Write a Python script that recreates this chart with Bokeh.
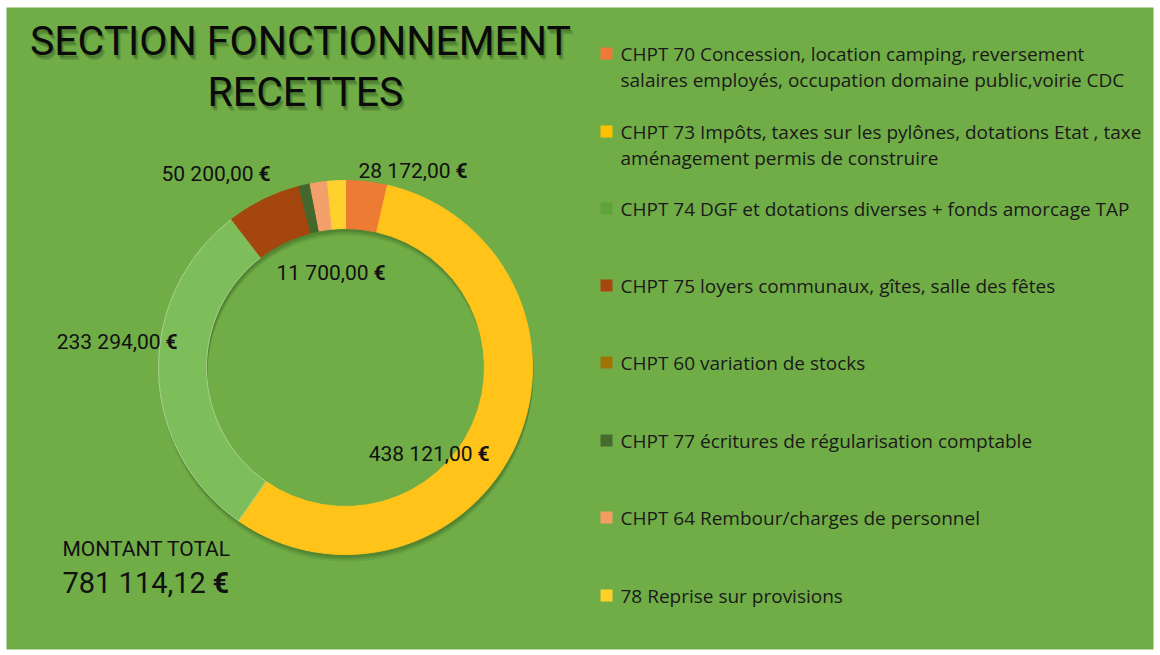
import numpy as np
from bokeh.plotting import figure
from bokeh.models import Range1d
from bokeh.core.properties import value
from bokeh.embed import file_html
from bokeh.resources import INLINE

# ---------------- data ----------------
categories = [
    "CHPT 70  Concession, location camping, reversement\nsalaires employés, occupation domaine public,voirie CDC",
    "CHPT 73 Impôts, taxes sur les pylônes, dotations Etat , taxe\naménagement permis de construire",
    "CHPT 74 DGF et dotations diverses + fonds amorcage TAP",
    "CHPT 75  loyers communaux, gîtes, salle des fêtes",
    "CHPT 60 variation de stocks",
    "CHPT 77 écritures de régularisation comptable",
    "CHPT 64 Rembour/charges de personnel",
    "78 Reprise sur provisions",
]
values = [28172.00, 438121.00, 233294.00, 50200.00, 0.00, 7627.12, 11700.00, 12000.00]
labelled = [0, 3, 6, 2, 1]          # slices that carry a value label
title_lines = ["SECTION  FONCTIONNEMENT", "RECETTES"]
total_caption = "MONTANT TOTAL"

# ---------------- styles ----------------
BG = "#70AD47"
slice_colors = ["#EE7B34", "#FFC31A", "#7DBE5B", "#A5460E", "#997300", "#43682B", "#F4A06A", "#FFD12E"]
slice_lines = ["#EE7B34", "#FFC31A", "#A9D18E", "#A5460E", "#997300", "#43682B", "#F4A06A", "#FFD12E"]
legend_colors = ["#EE7A3A", "#FFC000", "#5FA33B", "#A8460F", "#A07404", "#466B2E", "#F59C63", "#FFCF2A"]

W, H = 1160, 655
def X(x):  # image px -> data
    return x
def Y(y):
    return H - y

def fr(v):
    s = f"{v:,.2f}"
    return s.replace(",", " ").replace(".", ",")

p = figure(width=W, height=H, x_range=Range1d(0, W), y_range=Range1d(0, H),
           toolbar_location=None, output_backend="svg",
           x_axis_location=None, y_axis_location=None, min_border=0,
           background_fill_color="white", border_fill_color="white", outline_line_color=None)
p.grid.visible = False

# green panel
p.quad(left=[6], right=[1153], top=[Y(7)], bottom=[Y(649)], fill_color=BG, line_color=None)

# ---------------- donut ----------------
cx, cy = X(345), Y(367)
R_out, R_in = 187, 139
vals = np.array(values)
total = vals.sum()
cum = np.concatenate([[0], np.cumsum(vals)])
start = np.pi / 2 - cum[:-1] / total * 2 * np.pi
end = np.pi / 2 - cum[1:] / total * 2 * np.pi
keep = [i for i, v in enumerate(values) if v > 0]   # zero slices are not drawn

# drop shadow
for off, a in [(7, 0.12), (5, 0.18), (3, 0.22)]:
    p.annulus(x=cx + 1, y=cy - off, inner_radius=R_in, outer_radius=R_out,
              fill_color="#2E5619", fill_alpha=a, line_color=None)

p.annular_wedge(x=cx, y=cy, inner_radius=R_in, outer_radius=R_out,
                start_angle=[start[i] for i in keep], end_angle=[end[i] for i in keep],
                direction="clock",
                fill_color=[slice_colors[i] for i in keep],
                line_color=[slice_lines[i] for i in keep], line_width=1)

# ---------------- value labels ----------------
label_pos = {0: (455, 170), 3: (258, 173), 6: (373, 272), 2: (165, 341), 1: (477, 453)}
lx = [X(label_pos[i][0]) for i in labelled]
ly = [Y(label_pos[i][1]) for i in labelled]
p.text(x=[v - 5 for v in lx], y=ly, text=[fr(values[i]) for i in labelled],
       text_font=value("Roboto"), text_font_size="21px", text_color="#111111",
       text_align="right", text_baseline="middle")
p.text(x=lx, y=ly, text=["€"] * len(labelled),
       text_font=value("Roboto"), text_font_size="21px", text_font_style="bold",
       text_color="#111111", text_align="left", text_baseline="middle")

# ---------------- total ----------------
p.text(x=[X(62)], y=[Y(548)], text=[total_caption], text_font=value("Roboto"),
       text_font_size="21px", text_color="#111111", text_align="left", text_baseline="middle")
p.text(x=[X(62)], y=[Y(582)], text=[fr(total)], text_font=value("Roboto"),
       text_font_size="29px", text_color="#111111", text_align="left", text_baseline="middle")
p.text(x=[X(212)], y=[Y(582)], text=["€"], text_font=value("Roboto"),
       text_font_size="29px", text_font_style="bold", text_color="#111111",
       text_align="left", text_baseline="middle")

# ---------------- title ----------------
tx = [X(305), X(305)]
ty = [Y(40), Y(91)]
for dx, dy, a in [(3, -5, 0.15), (2, -4, 0.2), (1, -2, 0.25)]:
    p.text(x=[t + dx for t in tx], y=[t + dy for t in ty], text=title_lines,
           text_font=value("Roboto"), text_font_size="41px",
           text_color="#1E3A10", text_alpha=a, text_align="center", text_baseline="middle")
p.text(x=tx, y=ty, text=title_lines,
       text_font=value("Roboto"), text_font_size="41px",
       text_color="#0A0A0A", text_align="center", text_baseline="middle")

# ---------------- legend ----------------
row_y = [53, 131, 208, 285, 362, 440, 517, 595]
sq_x = X(606)
p.rect(x=[sq_x] * len(categories), y=[Y(r) for r in row_y], width=12, height=12,
       fill_color=legend_colors, line_color=None)
line_x, line_y, line_t = [], [], []
for r, cat in zip(row_y, categories):
    for k, ln in enumerate(cat.split("\n")):
        line_x.append(X(620))
        line_y.append(Y(r + 26 * k))
        line_t.append(ln)
p.text(x=line_x, y=line_y, text=line_t, text_font=value("Open Sans"),
       text_font_size="19px", text_color="#1A1A1A", text_align="left", text_baseline="middle")

open("out.html", "w").write(file_html(p, INLINE))
